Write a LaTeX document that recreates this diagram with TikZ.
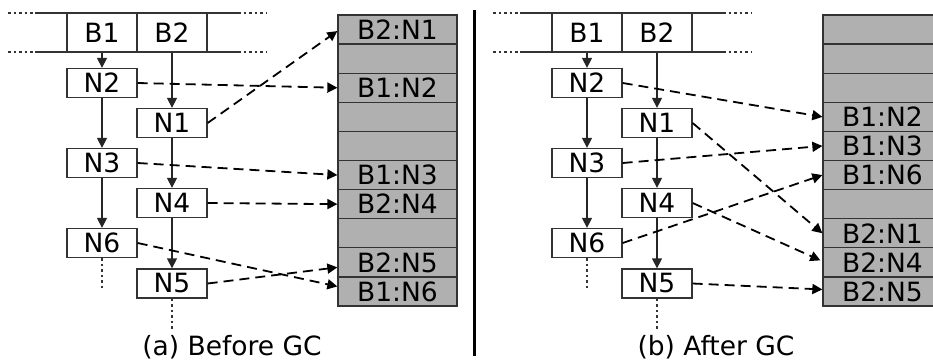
\documentclass[tikz,border=0pt]{standalone}
\usepackage{fontspec}
\setmainfont{DejaVu Sans}
\usetikzlibrary{arrows.meta,calc}
\definecolor{memgray}{HTML}{B0B0B0}
\definecolor{edge}{HTML}{333333}
\begin{document}
\begin{tikzpicture}[x=1pt,y=-1pt,
  every node/.style={font=\fontsize{26.5}{28}\selectfont, inner sep=0pt},
  nbox/.style={draw=edge, line width=1.3pt, fill=white, minimum width=70pt, minimum height=29pt},
  cell/.style={draw=edge, line width=1.3pt, minimum width=70pt, minimum height=39pt},
  mrow/.style={draw=edge, line width=1.3pt, fill=memgray, minimum width=119pt, minimum height=29.1pt},
  solidarr/.style={draw=black!85, line width=1.3pt, -{Triangle[length=10pt,width=10pt]}},
  ptr/.style={black, line width=1.8pt, dash pattern=on 10pt off 6pt, -{Triangle[length=10pt,width=10pt]}},
  dots/.style={draw=edge, line width=1.3pt, dash pattern=on 2.5pt off 3pt},
  bar/.style={draw=edge, line width=1.3pt},
  captext/.style={font=\fontsize{26.5}{28}\selectfont}]
\useasboundingbox (0,0) rectangle (933,360);
\clip (0,0) rectangle (933,360);

% ===== Left panel =====
\coordinate (lt0) at (8,13);  \coordinate (lt1) at (35,13);
\coordinate (lt2) at (238,13); \coordinate (lt3) at (266,13);
\coordinate (lb0) at (8,52);  \coordinate (lb1) at (35,52);
\coordinate (lb2) at (238,52); \coordinate (lb3) at (266,52);
\draw[bar] (lt1) -- (lt2); \draw[bar] (lb1) -- (lb2);
\draw[dots] (lt0) -- (lt1); \draw[dots] (lt2) -- (lt3);
\draw[dots] (lb0) -- (lb1); \draw[dots] (lb2) -- (lb3);
\node[cell] (aB1) at (102,32.5) {B1};
\node[cell] (aB2) at (172,32.5) {B2};

\node[nbox] (aN2) at (102,83) {N2};
\node[nbox] (aN1) at (172,123) {N1};
\node[nbox] (aN3) at (102,163) {N3};
\node[nbox] (aN4) at (172,203) {N4};
\node[nbox] (aN6) at (102,243) {N6};
\node[nbox] (aN5) at (172,283.5) {N5};

\draw[solidarr] (aB1.south) -- (aN2.north);
\draw[solidarr] (aB2.south) -- (aN1.north);
\draw[solidarr] (aN2.south) -- (aN3.north);
\draw[solidarr] (aN1.south) -- (aN4.north);
\draw[solidarr] (aN3.south) -- (aN6.north);
\draw[solidarr] (aN4.south) -- (aN5.north);
\coordinate (aE6) at (102,288);
\coordinate (aE5) at (172,330);
\draw[dots] (aN6.south) -- (aE6);
\draw[dots] (aN5.south) -- (aE5);

\foreach \i/\t in {1/B2:N1,2/,3/B1:N2,4/,5/,6/B1:N3,7/B2:N4,8/,9/B2:N5,10/B1:N6}{
  \node[mrow] (aM\i) at (397.5,{15+29.1*(\i-0.5)}) {\t};
}

\draw[ptr] (aN1.east) -- ($(aM1.west)+(0,1.5)$);
\draw[ptr] (aN2.east) -- (aM3.west);
\draw[ptr] (aN3.east) -- (aM6.west);
\draw[ptr] (aN4.east) -- (aM7.west);
\draw[ptr] (aN6.east) -- ($(aM10.west)+(0,-5)$);
\draw[ptr] (aN5.east) -- ($(aM9.west)+(0,5)$);

\node[captext] (capa) at (232,347) {(a) Before GC};

% ===== Divider =====
\coordinate (dv0) at (474,10);
\coordinate (dv1) at (474,356);
\draw[black, line width=3pt] (dv0) -- (dv1);

% ===== Right panel =====
\coordinate (rt0) at (493,13);  \coordinate (rt1) at (520,13);
\coordinate (rt2) at (723,13); \coordinate (rt3) at (751,13);
\coordinate (rb0) at (493,52);  \coordinate (rb1) at (520,52);
\coordinate (rb2) at (723,52); \coordinate (rb3) at (751,52);
\draw[bar] (rt1) -- (rt2); \draw[bar] (rb1) -- (rb2);
\draw[dots] (rt0) -- (rt1); \draw[dots] (rt2) -- (rt3);
\draw[dots] (rb0) -- (rb1); \draw[dots] (rb2) -- (rb3);
\node[cell] (bB1) at (587,32.5) {B1};
\node[cell] (bB2) at (657,32.5) {B2};

\node[nbox] (bN2) at (587,83) {N2};
\node[nbox] (bN1) at (657,123) {N1};
\node[nbox] (bN3) at (587,163) {N3};
\node[nbox] (bN4) at (657,203) {N4};
\node[nbox] (bN6) at (587,243) {N6};
\node[nbox] (bN5) at (657,283.5) {N5};

\draw[solidarr] (bB1.south) -- (bN2.north);
\draw[solidarr] (bB2.south) -- (bN1.north);
\draw[solidarr] (bN2.south) -- (bN3.north);
\draw[solidarr] (bN1.south) -- (bN4.north);
\draw[solidarr] (bN3.south) -- (bN6.north);
\draw[solidarr] (bN4.south) -- (bN5.north);
\coordinate (bE6) at (587,288);
\coordinate (bE5) at (657,330);
\draw[dots] (bN6.south) -- (bE6);
\draw[dots] (bN5.south) -- (bE5);

\foreach \i/\t in {1/,2/,3/,4/B1:N2,5/B1:N3,6/B1:N6,7/,8/B2:N1,9/B2:N4,10/B2:N5}{
  \node[mrow] (bM\i) at (882.5,{15+29.1*(\i-0.5)}) {\t};
}

\draw[ptr] (bN2.east) -- (bM4.west);
\draw[ptr] (bN1.east) -- (bM8.west);
\draw[ptr] (bN3.east) -- (bM5.west);
\draw[ptr] (bN6.east) -- (bM6.west);
\draw[ptr] (bN4.east) -- ($(bM9.west)+(-2,-2)$);
\draw[ptr] (bN5.east) -- ($(bM10.west)+(0,-2)$);

\node[captext] (capb) at (716,347) {(b) After GC};
\end{tikzpicture}
\end{document}
